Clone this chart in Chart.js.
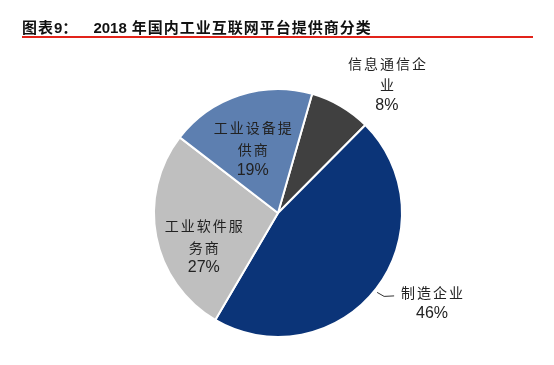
<!DOCTYPE html>
<html lang="zh">
<head>
<meta charset="utf-8">
<script src="https://cdn.jsdelivr.net/npm/chart.js"></script>
<style>
    html, body {
        margin: 0;
        background: #fff;
    }
    #wrap {
        position: relative;
        width: 554px;
        height: 365px;
    }
    #title {
        position: absolute;
        left: 22px;
        top: 16px;
        width: 511px;
        height: 20px;
        line-height: 20px;
        font: bold 15px "Noto Sans CJK SC", sans-serif;
        letter-spacing: 1px;
        color: #111;
        border-bottom: 2px solid #e2231a;
        white-space: nowrap;
    }
    #title .num {
        font-family: "Liberation Sans", Arial, sans-serif;
        font-size: 15px;
        letter-spacing: 0;
    }
    #title .year {
        margin-left: 15px;
        margin-right: 5px;
    }
    canvas {
        position: absolute;
        left: 0;
        top: 0;
    }
</style>
</head>
<body>
<div id="wrap">
    <canvas id="chart" width="554" height="365"></canvas>
    <div id="title">图表<span class="num">9</span>：<span class="num year">2018</span>年国内工业互联网平台提供商分类</div>
</div>
<script>

    // data (percent)
    const categories = ['信息通信企业', '制造企业', '工业软件服务商', '工业设备提供商'];
    const shares = [8, 46, 27, 19];
    const sliceColors = ['#404040', '#0b3478', '#bfbfbf', '#5d7fb0'];

    // where each label sits: radius factor and angle nudge (deg) from the slice middle
    const labelPlacing = [
        { r: 1.355, da: 10 },
        { r: 1.44, da: -7.2 },
        { r: 0.66, da: -14 },
        { r: 0.55, da: -3.6 }
    ];

    function wrapText(txt, n) {
        const out = [];
        for (let i = 0; i < txt.length; i += n) out.push(txt.slice(i, i + n));
        return out;
    }

    function drawSpaced(ctx, txt, cx, y, pitch) {
        const w = pitch * txt.length;
        let x = cx - w / 2 + pitch / 2;
        for (const ch of txt) {
            ctx.fillText(ch, x, y);
            x += pitch;
        }
    }

    const sliceLabels = {
        id: 'sliceLabels',
        afterDatasetsDraw(chart) {
            const ctx = chart.ctx;
            const meta = chart.getDatasetMeta(0);
            ctx.save();
            ctx.textAlign = 'center';
            ctx.textBaseline = 'middle';
            ctx.fillStyle = '#222';
            meta.data.forEach((arc, i) => {
                const p = arc.getProps(['x', 'y', 'startAngle', 'endAngle', 'outerRadius'], true);
                const place = labelPlacing[i];
                const a = (p.startAngle + p.endAngle) / 2 + place.da * Math.PI / 180;
                const cx = p.x + Math.cos(a) * p.outerRadius * place.r;
                const cy = p.y + Math.sin(a) * p.outerRadius * place.r;

                const lines = wrapText(categories[i], 5);
                const step = 21.5;
                const total = lines.length + 1;
                let y = cy - (total - 1) * step / 2;

                ctx.font = '14px "Noto Sans CJK SC", sans-serif';
                lines.forEach(l => {
                    drawSpaced(ctx, l, cx, y, 16);
                    y += step;
                });
                ctx.font = '16px "Liberation Sans", Arial, sans-serif';
                ctx.fillText(shares[i] + '%', cx, y - 1);

                // leader line for the big slice
                if (i === 1) {
                    const la = (p.startAngle + p.endAngle) / 2 + 1.1 * Math.PI / 180;
                    const x0 = p.x + Math.cos(la) * (p.outerRadius + 3);
                    const y0 = p.y + Math.sin(la) * (p.outerRadius + 3);
                    ctx.strokeStyle = '#333';
                    ctx.lineWidth = 1;
                    ctx.beginPath();
                    ctx.moveTo(x0, y0);
                    ctx.lineTo(x0 + 7, y0 + 4);
                    ctx.lineTo(x0 + 17, y0 + 3.5);
                    ctx.stroke();
                }
            });
            ctx.restore();
        }
    };

    new Chart(document.getElementById('chart'), {
        type: 'pie',
        data: {
            labels: categories,
            datasets: [{
                data: shares,
                backgroundColor: sliceColors,
                borderColor: '#ffffff',
                borderWidth: 2
            }]
        },
        options: {
            responsive: false,
            animation: false,
            rotation: 16,
            layout: {
                padding: { top: 88, bottom: 27, left: 100, right: 98 }
            },
            plugins: {
                legend: { display: false },
                tooltip: { enabled: false }
            }
        },
        plugins: [sliceLabels]
    });
</script>
</body>
</html>
